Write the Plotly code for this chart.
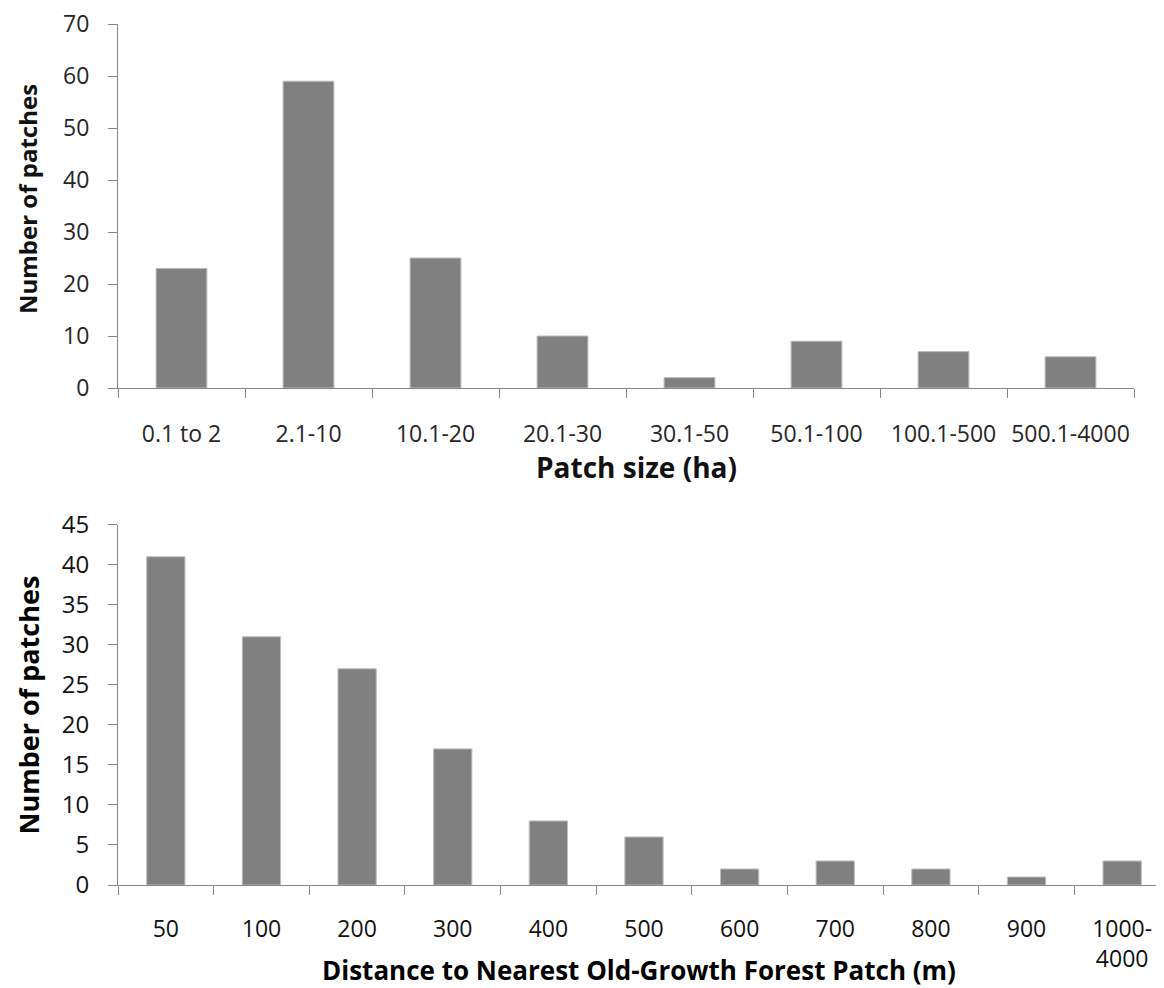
import plotly.graph_objects as go

size_labels = ["0.1 to 2", "2.1-10", "10.1-20", "20.1-30", "30.1-50", "50.1-100", "100.1-500", "500.1-4000"]
size_counts = [23, 59, 25, 10, 2, 9, 7, 6]

dist_labels = ["50", "100", "200", "300", "400", "500", "600", "700", "800", "900", "1000-<br>4000"]
dist_counts = [41, 31, 27, 17, 8, 6, 2, 3, 2, 1, 3]

BAR = "#808080"
EDGE = "#bdbdbd"
AX = "#868686"
FONT = "Open Sans"

fig = go.Figure()
fig.add_trace(go.Bar(x=size_labels, y=size_counts, xaxis="x", yaxis="y",
                     marker=dict(color=BAR, line=dict(color=EDGE, width=1)),
                     showlegend=False, hoverinfo="x+y"))
fig.add_trace(go.Bar(x=dist_labels, y=dist_counts, xaxis="x2", yaxis="y2",
                     marker=dict(color=BAR, line=dict(color=EDGE, width=1)),
                     showlegend=False, hoverinfo="x+y"))

# page body has an 8px margin, so the figure sits at (8, 8) in the window
OFF = 8
W, H = 1164, 988
ml, mr, mt, mb = 118 - OFF, OFF, 24 - OFF, 988 - 885 + OFF
pw, ph = W - ml - mr, H - mt - mb

def px(x):
    # window x -> paper x
    return (x - 118) / pw

def py(y):
    # window y -> paper y
    return (885 - y) / ph

common_x = dict(showline=True, linecolor=AX, linewidth=1, ticks="outside", ticklen=9,
                tickcolor=AX, tickwidth=1, tickson="boundaries", showgrid=False,
                zeroline=False, type="category", fixedrange=True, tickangle=0,
                automargin=False, ticklabeloverflow="allow")
common_y = dict(showline=True, linecolor=AX, linewidth=1, ticks="outside", ticklen=9,
                tickcolor=AX, tickwidth=1, showgrid=False, zeroline=False, fixedrange=True,
                automargin=False, ticklabeloverflow="allow")

fig.update_layout(
    width=W, height=H,
    margin=dict(l=ml, r=mr, t=mt, b=mb, autoexpand=False),
    paper_bgcolor="white", plot_bgcolor="white",
    bargap=0.6,
    font=dict(family=FONT, color="#222222"),
    xaxis=dict(common_x, domain=[0, px(1134)], anchor="y", range=[-0.5, 7.5],
               tickfont=dict(size=23, family=FONT, color="#262626"), ticklabelstandoff=25),
    yaxis=dict(common_y, domain=[py(388), 1.0], anchor="x", range=[0, 70], dtick=10,
               tickfont=dict(size=23, family=FONT, color="#262626"), ticklabelstandoff=14),
    xaxis2=dict(common_x, domain=[0, 1.0], anchor="y2", range=[-0.5, 10.4375],
                tickfont=dict(size=23, family=FONT, color="#111111"), ticklabelstandoff=23),
    yaxis2=dict(common_y, domain=[0, py(524.7)], anchor="x2", range=[0, 45], dtick=5,
                tickfont=dict(size=24, family=FONT, color="#111111"), ticklabelstandoff=14),
    annotations=[
        dict(text="<b>Number of patches</b>", textangle=-90, x=px(27), y=py(199),
             xref="paper", yref="paper", xanchor="center", yanchor="middle",
             showarrow=False, font=dict(size=24, family=FONT, color="#111111")),
        dict(text="<b>Patch size (ha)</b>", x=px(636), y=py(467),
             xref="paper", yref="paper", xanchor="center", yanchor="middle",
             showarrow=False, font=dict(size=28, family=FONT, color="#111111")),
        dict(text="<b>Number of patches</b>", textangle=-90, x=px(27.5), y=py(705),
             xref="paper", yref="paper", xanchor="center", yanchor="middle",
             showarrow=False, font=dict(size=27, family=FONT, color="#000000")),
        dict(text="<b>Distance to Nearest Old-Growth Forest Patch (m)</b>", x=px(639), y=py(970),
             xref="paper", yref="paper", xanchor="center", yanchor="middle",
             showarrow=False, font=dict(size=26, family=FONT, color="#000000")),
    ],
)

fig.write_html("out.html")
